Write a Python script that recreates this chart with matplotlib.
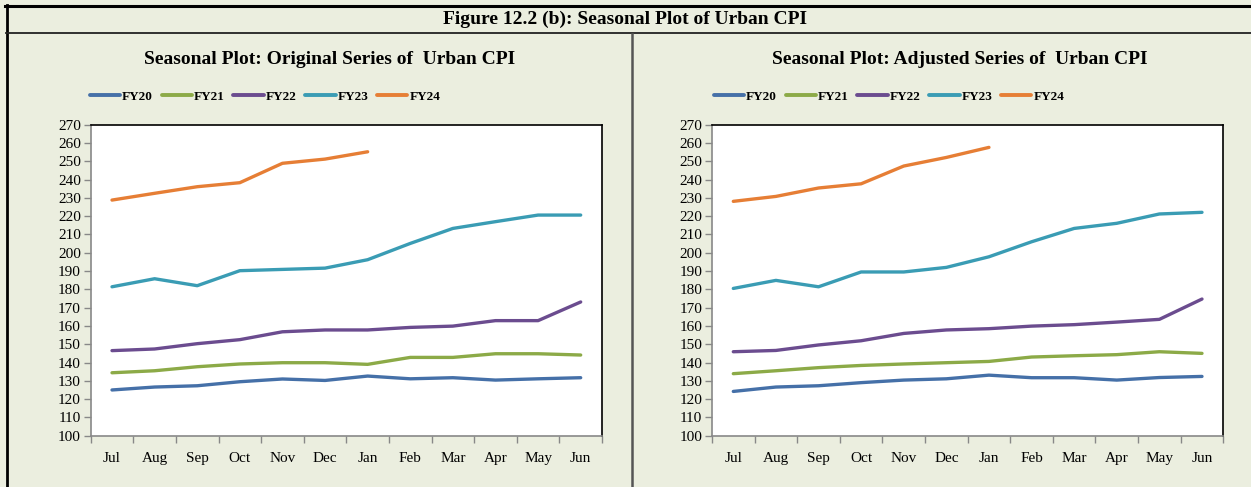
import matplotlib.pyplot as plt
from matplotlib.lines import Line2D
import numpy as np

months = ['Jul', 'Aug', 'Sep', 'Oct', 'Nov', 'Dec', 'Jan', 'Feb', 'Mar', 'Apr', 'May', 'Jun']
years = ['FY20', 'FY21', 'FY22', 'FY23', 'FY24']
colors = ['#4570A8', '#8CAA47', '#6B4C8F', '#3A9CB4', '#E67E35']

# original series
orig_fy20 = [125.0, 126.6, 127.3, 129.5, 131.0, 130.2, 132.6, 131.1, 131.7, 130.4, 131.1, 131.7]
orig_fy21 = [134.4, 135.5, 137.7, 139.2, 139.9, 139.9, 139.0, 142.8, 142.8, 144.8, 144.8, 144.1]
orig_fy22 = [146.5, 147.4, 150.3, 152.5, 156.8, 157.8, 157.8, 159.2, 159.9, 162.9, 162.9, 173.1]
orig_fy23 = [181.4, 185.8, 182.0, 190.2, 190.9, 191.6, 196.2, 205.1, 213.3, 217.0, 220.6, 220.6]
orig_fy24 = [228.8, 232.5, 236.1, 238.3, 248.9, 251.2, 255.2]

# seasonally adjusted series
adj_fy20 = [124.2, 126.6, 127.3, 129.0, 130.4, 131.1, 133.1, 131.7, 131.7, 130.4, 131.8, 132.4]
adj_fy21 = [133.9, 135.5, 137.2, 138.4, 139.2, 139.9, 140.6, 143.0, 143.7, 144.3, 145.9, 145.0]
adj_fy22 = [145.9, 146.6, 149.6, 151.9, 155.9, 157.8, 158.5, 159.9, 160.7, 162.1, 163.6, 174.7]
adj_fy23 = [180.5, 184.9, 181.4, 189.5, 189.5, 192.0, 197.8, 206.0, 213.3, 216.1, 221.2, 222.1]
adj_fy24 = [228.1, 230.8, 235.4, 237.7, 247.4, 252.1, 257.6]

W, H = 1251, 487
bg = '#EBEEDF'
serif = ['Liberation Serif', 'DejaVu Serif']
plt.rcParams['font.family'] = serif

fig = plt.figure(figsize=(W / 100, H / 100), dpi=100, facecolor=bg)


def fx(px):
    return px / W


def fy(py):
    return 1 - py / H


# frame lines
fig.add_artist(Line2D([fx(5), fx(1251)], [fy(5.5), fy(5.5)], color='black', lw=2.2))
fig.add_artist(Line2D([fx(6.5), fx(6.5)], [fy(5), fy(487)], color='black', lw=2.0))
fig.add_artist(Line2D([fx(6), fx(1251)], [fy(32.5), fy(32.5)], color='#222222', lw=1.3))
fig.add_artist(Line2D([fx(631.5), fx(631.5)], [fy(34), fy(487)], color='#555555', lw=1.8))

fig.text(fx(625), fy(19), 'Figure 12.2 (b): Seasonal Plot of Urban CPI', ha='center', va='center',
         fontsize=14, fontweight='bold')


def draw_panel(left_px, title, title_cx, legend_cx, series):
    ax = fig.add_axes([fx(left_px), fy(435.7), fx(511.3), 311 / H])
    x = np.arange(len(months))
    for vals, col, lab in zip(series, colors, years):
        ax.plot(x[:len(vals)], vals, color=col, lw=2.4, label=lab, solid_capstyle='round',
                solid_joinstyle='round')
    ax.set_xlim(-0.5, 11.5)
    ax.set_ylim(100, 270)
    ax.set_yticks(np.arange(100, 271, 10))
    ax.set_xticks(x)
    ax.set_xticklabels(months)
    ax.set_xticks(np.arange(-0.5, 12, 1), minor=True)
    ax.tick_params(axis='x', which='major', length=0, pad=12, labelsize=11)
    ax.tick_params(axis='x', which='minor', length=5, color='#888888', width=1)
    ax.tick_params(axis='y', length=5, color='#888888', width=1, labelsize=11, pad=2)
    ax.spines['left'].set_color('#888888')
    ax.spines['bottom'].set_color('#888888')
    ax.spines['top'].set_color('black')
    ax.spines['right'].set_color('black')
    for s in ax.spines.values():
        s.set_linewidth(1.2)
    ax.set_facecolor('white')
    fig.text(fx(title_cx), fy(59), title, ha='center', va='center', fontsize=14, fontweight='bold')
    handles, labels = ax.get_legend_handles_labels()
    leg = fig.legend(handles, labels, loc='center', bbox_to_anchor=(fx(legend_cx), fy(96.5)), ncol=5,
                     frameon=False, handlelength=2.3, handletextpad=0.15, columnspacing=0.65,
                     prop={'family': serif, 'weight': 'bold', 'size': 9.5})
    for h in leg.get_lines():
        h.set_linewidth(2.8)
    return ax


draw_panel(90.7, 'Seasonal Plot: Original Series of  Urban CPI', 330, 265,
           [orig_fy20, orig_fy21, orig_fy22, orig_fy23, orig_fy24])
draw_panel(712, 'Seasonal Plot: Adjusted Series of  Urban CPI', 960, 889,
           [adj_fy20, adj_fy21, adj_fy22, adj_fy23, adj_fy24])

fig.savefig('out.png', dpi=100, facecolor=bg)
